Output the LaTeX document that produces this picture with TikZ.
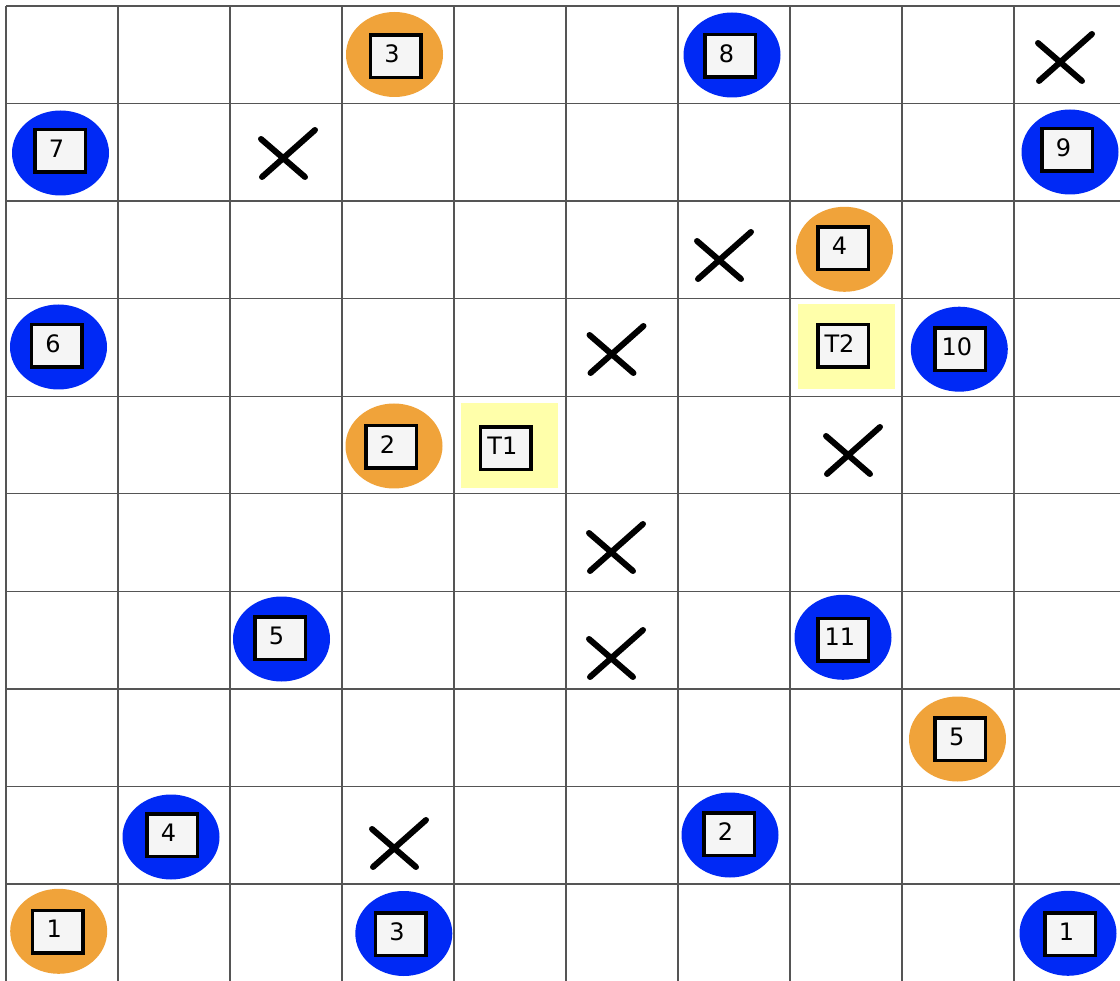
\documentclass[tikz,border=0pt]{standalone}
\usepackage{fontspec}
\setmainfont{DejaVu Sans}
\usetikzlibrary{shapes.geometric,calc}
\definecolor{tokblue}{HTML}{0029F5}
\definecolor{tokorange}{HTML}{F0A33A}
\definecolor{tokyellow}{HTML}{FFFFAA}
\definecolor{boxfill}{HTML}{F5F5F5}
\definecolor{gridgray}{HTML}{555555}
\newcommand\tok[5]{%
  \node[#2] (#1e) at (#3) {};
  \node[cellbox] (#1b) at (#4) {};
  \node[celltext] (#1t) at ($(#1b.center)+(-3.5,-2.5)$) {#5};
}
\begin{document}
\begin{tikzpicture}[x=1pt,y=-1pt,
  gridline/.style={draw=gridgray,line width=1.3pt},
  blueov/.style={ellipse,fill=tokblue,draw=none,minimum width=97pt,minimum height=85pt,inner sep=0pt},
  orangeov/.style={ellipse,fill=tokorange,draw=none,minimum width=97pt,minimum height=85pt,inner sep=0pt},
  yellowsq/.style={rectangle,fill=tokyellow,draw=none,minimum width=97pt,minimum height=85pt,inner sep=0pt},
  cellbox/.style={rectangle,draw=black,line width=3.5pt,fill=boxfill,minimum width=50.5pt,minimum height=42.5pt,inner sep=0pt},
  celltext/.style={inner sep=0pt,font=\fontsize{24}{28}\selectfont,text=black},
  xmark/.style={draw=black,line width=6pt,line cap=round}]
\useasboundingbox (0,0) rectangle (1120,981);
\fill[white] (0,0) rectangle (1120,981);
\begin{scope}
\clip (0,0) rectangle (1120,981);
\foreach \i in {0,...,9} {
  \draw[gridline] ({6+112*\i},6) -- ({6+112*\i},990);
  \draw[gridline] (6,{6+97.56*\i}) -- (1130,{6+97.56*\i});
}
\end{scope}
% crosses
\foreach \cx/\cy in {1060/61, 283/157, 719/259, 611.5/353, 848/454, 611/551, 611/657, 394/847} {
  \draw[xmark,shift={(\cx,\cy)}] (-22,-18) -- (22,20) (32,-27) -- (-21,20);
}
% tokens
\tok{o3}{orangeov}{394.5,54.5}{395.5,56.5}{3}
\tok{b8}{blueov}{732,55}{730,56}{8}
\tok{b7}{blueov}{60.5,153}{60,151}{7}
\tok{b9}{blueov}{1070,152}{1067,150}{9}
\tok{o4}{orangeov}{844.5,249.3}{843,248.3}{4}
\tok{b6}{blueov}{58.5,347}{56.5,346}{6}
\tok{tt2}{yellowsq}{846.5,346.3}{843,345.8}{T2}
\tok{b10}{blueov}{959.3,349.2}{960.3,349.3}{10}
\tok{o2}{orangeov}{394,446}{391,447}{2}
\tok{tt1}{yellowsq}{509.2,446}{505.8,448.3}{T1}
\tok{b5}{blueov}{281.5,639}{280,638}{5}
\tok{b11}{blueov}{843,637.3}{843.3,639.7}{11}
\tok{o5}{orangeov}{957.5,739}{960.3,739}{5}
\tok{b4}{blueov}{171,837}{172,835}{4}
\tok{b2}{blueov}{730,835}{729,834}{2}
\tok{o1}{orangeov}{58.7,931.3}{57.8,931.7}{1}
\tok{b3}{blueov}{403.8,933.5}{400.5,934.3}{3}
\tok{b1}{blueov}{1068,933.3}{1070,934.2}{1}
\end{tikzpicture}
\end{document}
